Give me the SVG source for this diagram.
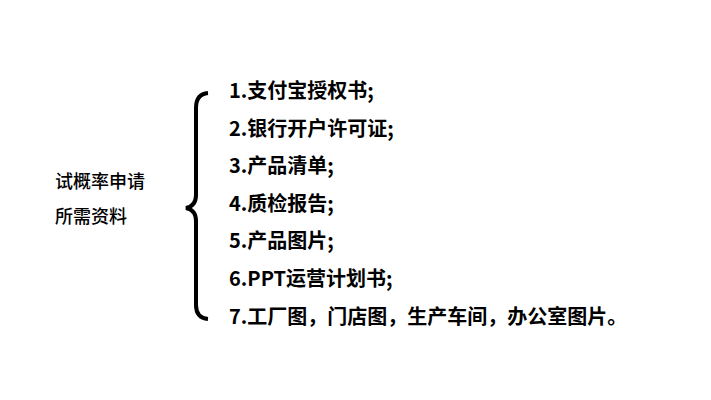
<svg xmlns="http://www.w3.org/2000/svg" width="711" height="400" viewBox="0 0 711 400">
<style>
.t{font-family:"Noto Sans CJK SC","Noto Sans",sans-serif;font-weight:bold;font-size:20px;fill:#000}
.l{font-family:"Noto Sans CJK SC","Noto Sans",sans-serif;font-weight:500;font-size:18px;fill:#000}
</style>
<rect width="711" height="400" fill="#fff"/>
<g id="title"><text class="l" x="55" y="188">试概率申请</text><text class="l" x="55" y="223">所需资料</text></g>
<g id="connectors"><path d="M208,93 Q196,94 196,108 L196,195 Q196,206 186,208 Q196,210 196,221 L196,305 Q196,318 208,319" fill="none" stroke="#000" stroke-width="4"/></g>
<g id="items">
<text class="t" x="229" y="98">1.支付宝授权书;</text>
<text class="t" x="229" y="136">2.银行开户许可证;</text>
<text class="t" x="229" y="173">3.产品清单;</text>
<text class="t" x="229" y="211">4.质检报告;</text>
<text class="t" x="229" y="248">5.产品图片;</text>
<text class="t" x="229" y="286">6.PPT运营计划书;</text>
<text class="t" x="229" y="324">7.工厂图，门店图，生产车间，办公室图片。</text>
</g>
</svg>
